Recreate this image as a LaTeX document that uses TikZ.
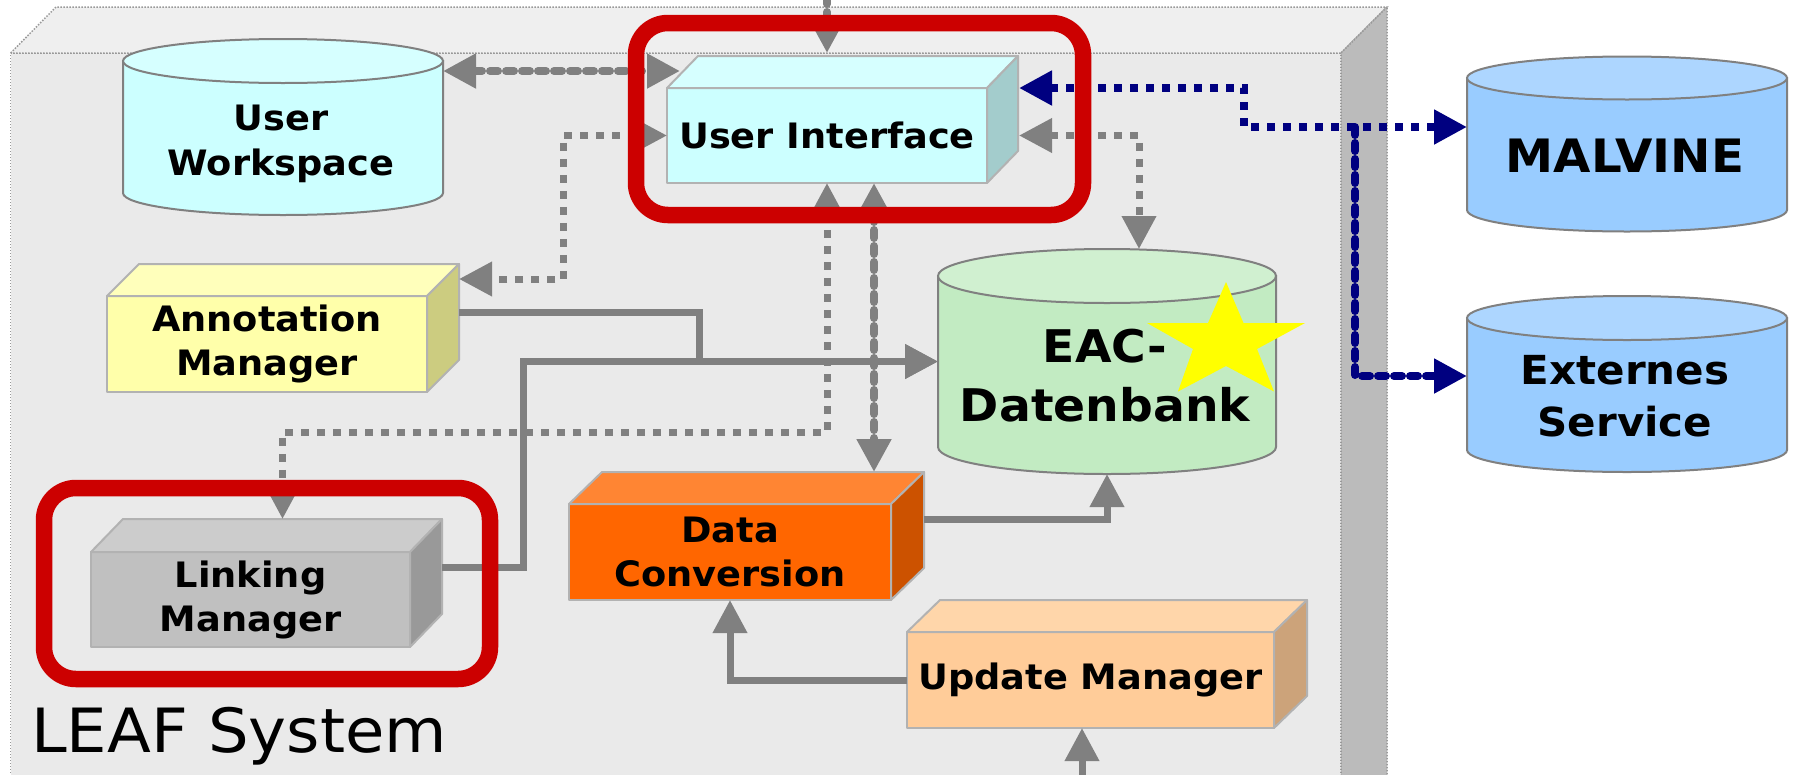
\documentclass[tikz,border=0pt]{standalone}
\usepackage{fontspec}
\setmainfont{DejaVu Sans}
\newfontfamily\lblfont{DejaVu Sans}[FakeStretch=1.05]
\usetikzlibrary{arrows.meta}
\definecolor{leaffront}{HTML}{EAEAEA}
\definecolor{leaftop}{HTML}{EFEFEF}
\definecolor{leafside}{HTML}{BBBBBB}
\definecolor{leafedge}{HTML}{999999}
\definecolor{boxline}{HTML}{B2B2B2}
\definecolor{cylline}{HTML}{808080}
\definecolor{arrgray}{HTML}{808080}
\definecolor{navyc}{HTML}{000080}
\definecolor{redc}{HTML}{CC0000}
\definecolor{uifront}{HTML}{CCFFFF}
\definecolor{uitop}{HTML}{D6FFFF}
\definecolor{uiside}{HTML}{A3CCCC}
\definecolor{amfront}{HTML}{FFFFAA}
\definecolor{amtop}{HTML}{FFFFBB}
\definecolor{amside}{HTML}{CCCC80}
\definecolor{lmfront}{HTML}{C0C0C0}
\definecolor{lmtop}{HTML}{CCCCCC}
\definecolor{lmside}{HTML}{999999}
\definecolor{dcfront}{HTML}{FF6600}
\definecolor{dctop}{HTML}{FF8533}
\definecolor{dcside}{HTML}{CC5200}
\definecolor{umfront}{HTML}{FFCC99}
\definecolor{umtop}{HTML}{FFD6AA}
\definecolor{umside}{HTML}{CCA37A}
\definecolor{eacbody}{HTML}{C2EBC2}
\definecolor{eactop}{HTML}{D0F0D0}
\definecolor{extbody}{HTML}{99CCFF}
\definecolor{exttop}{HTML}{ADD6FF}
\definecolor{starc}{HTML}{FFFF00}

\newcommand\mycyl[7]{%
  \pgfmathsetmacro\cL{#1-#4}%
  \pgfmathsetmacro\cR{#1+#4}%
  \pgfmathsetmacro\kx{0.5523*#4}%
  \pgfmathsetmacro\ky{0.5523*#5}%
  \pgfmathsetmacro\bb{#3+#5}%
  \filldraw[cylface, fill=#6] (\cL,#2) -- (\cL,#3) .. controls (\cL,#3+\ky) and (#1-\kx,\bb) .. (#1,\bb) .. controls (#1+\kx,\bb) and (\cR,#3+\ky) .. (\cR,#3) -- (\cR,#2) -- cycle;
  \filldraw[cylface, fill=#7] (#1,#2) ellipse [x radius=#4pt, y radius=#5pt];
}
\newcommand\extrude[5]{%
  \filldraw[face, fill=#4] (#1.north west) -- ++(#2,-#3) -- ([shift={(#2,-#3)}]#1.north east) -- (#1.north east) -- cycle;
  \filldraw[face, fill=#5] (#1.north east) -- ++(#2,-#3) -- ([shift={(#2,-#3)}]#1.south east) -- (#1.south east) -- cycle;
}

\begin{document}
\begin{tikzpicture}[x=1pt, y=-1pt,
  >={Triangle[length=33pt,width=33pt]},
  face/.style={draw=boxline, line width=2pt, line join=round},
  box/.style={face, rectangle, inner sep=0pt, outer sep=0pt, minimum width=320pt, minimum height=96pt, align=center, font=\lblfont\bfseries\fontsize{35}{44}\selectfont},
  cylface/.style={draw=cylline, line width=2pt},
  cylnode/.style={inner sep=0pt, outer sep=0pt},
  cyltext/.style={align=center, inner sep=0pt},
  gline/.style={draw=arrgray, line width=7pt},
  gdot/.style={gline, dash pattern=on 8pt off 8pt},
  gchain/.style={draw=arrgray, line width=8pt, line cap=round, dash pattern=on 8pt off 8pt},
  nline/.style={draw=navyc, line width=8pt},
  ndot/.style={nline, dash pattern=on 8pt off 8pt},
  nchain/.style={nline, line cap=round, dash pattern=on 8pt off 8pt},
  redbox/.style={draw=redc, line width=16.5pt, rounded corners=32pt},
  leafface/.style={draw=leafedge, line width=1.5pt, dash pattern=on 1.5pt off 1.5pt}]
\clip (0,0) rectangle (1793,774);
\fill[white] (0,0) rectangle (1793,774);
% LEAF system box
\filldraw[leafface, fill=leaffront] (10.7,800) -- (10.7,53) -- (1341,53) -- (1341,800);
\filldraw[leafface, fill=leaftop] (10.7,53) -- (56,7) -- (1387,7) -- (1341,53) -- cycle;
\filldraw[leafface, fill=leafside] (1341,800) -- (1341,53) -- (1387,7) -- (1387,800);
\node[anchor=base west, inner sep=0pt, font=\lblfont\fontsize{61}{61}\selectfont] (leaf) at (31,752) {LEAF System};

% cylinders
\mycyl{283}{61}{193}{160}{22}{uifront}{uitop}
\node[cylnode, minimum width=320pt, minimum height=176pt] (uw) at (283,127) {};
\node[cyltext, font=\lblfont\bfseries\fontsize{35}{45}\selectfont] (uwl) at (281,143.5) {User\\Workspace};

\mycyl{1107}{276}{447}{169}{27}{eacbody}{eactop}
\node[cylnode, minimum width=338pt, minimum height=225pt] (eac) at (1107,361.5) {};
\fill[starc] (1226,282) -- (1208,323) -- (1147,323) -- (1193,349) -- (1178,391.5) -- (1226,366) -- (1274,391.5) -- (1257,349) -- (1305,323) -- (1243.5,323) -- cycle;
\node[cyltext, font=\lblfont\bfseries\fontsize{45}{59}\selectfont] (eacl) at (1105,376) {EAC-\\Datenbank};

\mycyl{1627}{78}{210}{160}{21.5}{extbody}{exttop}
\node[cylnode, minimum width=320pt, minimum height=175pt] (mal) at (1627,144) {};
\node[cyltext, font=\lblfont\bfseries\fontsize{46}{50}\selectfont] (mall) at (1625,156) {MALVINE};

\mycyl{1627}{318}{450}{160}{22}{extbody}{exttop}
\node[cylnode, minimum width=320pt, minimum height=176pt] (ext) at (1627,384) {};
\node[cyltext, font=\lblfont\bfseries\fontsize{40}{52}\selectfont] (extl) at (1625,396.5) {Externes\\Service};

% boxes
\node[box, fill=uifront, minimum height=95pt] (ui) at (827,135.5) {User Interface};
\extrude{ui}{31}{32}{uitop}{uiside}
\node[box, fill=amfront] (am) at (267,344) {Annotation\\Manager};
\extrude{am}{32}{32}{amtop}{amside}
\node[box, fill=lmfront, minimum width=319pt, minimum height=95pt] (lm) at (250.5,599.5) {Linking\\Manager};
\extrude{lm}{32}{33}{lmtop}{lmside}
\node[box, fill=dcfront, minimum width=322pt] (dc) at (730,552) {Data\\Conversion};
\extrude{dc}{33}{32}{dctop}{dcside}
\node[box, fill=umfront, minimum width=367pt] (um) at (1090.5,680) {Update Manager};
\extrude{um}{33}{32}{umtop}{umside}

% connectors
\coordinate (uiin) at (827,-20);
\coordinate (umin) at (1082,800);
\coordinate (split) at (1355,127);

\draw[gchain,->] (uiin) -- ([yshift=35pt]ui.north);
\draw[gchain,<->] ([yshift=56pt]uw.east) -- ([shift={(13,-17)}]ui.north west);
\draw[gdot,<->] (ui.west) -- ++(-104,0) |- ([shift={(32,-65)}]am.east);
\draw[gdot,<->] ([xshift=32pt]ui.east) -| ([xshift=32pt]eac.north);
\draw[gdot,<->] (ui.south) -- ++(0,249) -| ([shift={(32,-33)}]lm.north);
\draw[gchain,<->] ([xshift=47pt]ui.south) -- ([shift={(144,-32)}]dc.north);
\draw[gline,->] ([shift={(32,-32)}]am.east) -- ++(240,0) |- (eac.west);
\draw[gline,->] ([shift={(32,-32)}]lm.east) -- ++(81,0) |- (eac.west);
\draw[gline,->] ([shift={(33,-33)}]dc.east) -| (eac.south);
\draw[gline,->] (um.west) -| (dc.south);
\draw[gline,->] (umin) -- ([xshift=-8.5pt]um.south);
\draw[ndot,<->] ([shift={(32,-47.5)}]ui.east) -- ++(225,0) |- ([yshift=17pt]mal.west);
\draw[nchain,->] (split) |- ([yshift=8pt]ext.west);

% highlight frames
\draw[redbox] (636,23) rectangle (1083,215);
\draw[redbox] (44,488) rectangle (490,679);
\end{tikzpicture}
\end{document}
